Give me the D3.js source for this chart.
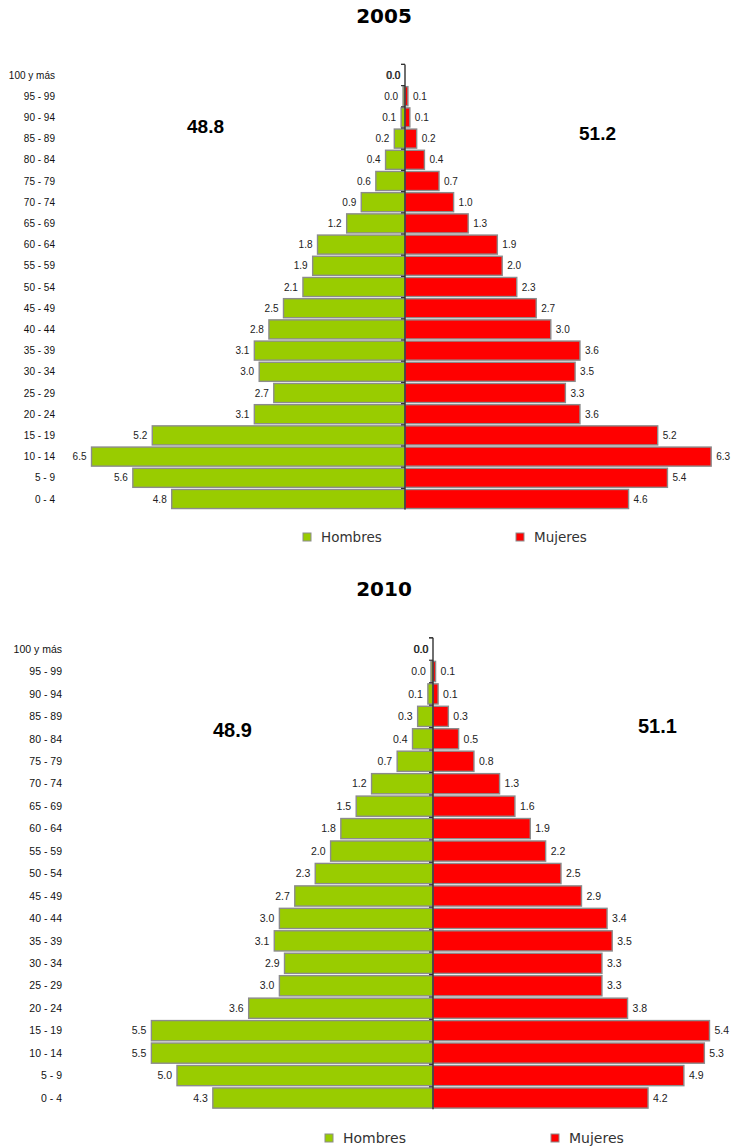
<!DOCTYPE html>
<html>
<head>
<meta charset="utf-8">
<script src="https://cdn.jsdelivr.net/npm/d3@7"></script>
<style>
  body { margin: 0; background: #fff; }
  svg { display: block; }
</style>
</head>
<body>
<div id="chart"></div>
<script>
// pirámide de población 2005 / 2010

// age groups, from the bottom row up
const ageGroups = ["0 - 4", "5 - 9", "10 - 14", "15 - 19", "20 - 24", "25 - 29", "30 - 34",
  "35 - 39", "40 - 44", "45 - 49", "50 - 54", "55 - 59", "60 - 64", "65 - 69", "70 - 74",
  "75 - 79", "80 - 84", "85 - 89", "90 - 94", "95 - 99", "100 y más"];

const years = ["2005", "2010"];

const men2005 = [4.8, 5.6, 6.45, 5.2, 3.1, 2.7, 3.0, 3.1, 2.8, 2.5, 2.1, 1.9, 1.8, 1.2, 0.9, 0.6, 0.4, 0.22, 0.08, 0.04, 0.0];
const women2005 = [4.6, 5.4, 6.3, 5.2, 3.6, 3.3, 3.5, 3.6, 3.0, 2.7, 2.3, 2.0, 1.9, 1.3, 1.0, 0.7, 0.4, 0.24, 0.1, 0.06, 0.0];

const men2010 = [4.3, 5.0, 5.5, 5.5, 3.6, 3.0, 2.9, 3.1, 3.0, 2.7, 2.3, 2.0, 1.8, 1.5, 1.2, 0.7, 0.4, 0.3, 0.1, 0.04, 0.0];
const women2010 = [4.2, 4.9, 5.3, 5.4, 3.8, 3.3, 3.3, 3.5, 3.4, 2.9, 2.5, 2.2, 1.9, 1.6, 1.3, 0.8, 0.5, 0.3, 0.1, 0.05, 0.0];

const totalsMen = [48.8, 48.9];
const totalsWomen = [51.2, 51.1];

const legendLabels = ["Hombres", "Mujeres"];

const colors = { men: "#99cc00", women: "#ff0000", border: "#8c8c8c" };

const svg = d3.select("#chart")
  .append("svg")
  .attr("width", 733)
  .attr("height", 1146);

const fmt = d3.format(".1f");

const drawPyramid = (cfg, men, women, title, totM, totW) => {
  const g = svg.append("g");
  const rows = ageGroups.map((a, i) => ({ age: a, m: men[i], w: women[i] }));

  // --- Scales ---
  const y = d3.scaleBand()
    .domain(ageGroups.slice().reverse())
    .range([cfg.top, cfg.top + cfg.step * ageGroups.length])
    .paddingInner(0.1)
    .paddingOuter(0.05);

  const x = d3.scaleLinear()
    .domain([-7, 7])
    .range([cfg.axisX - 7 * cfg.unit, cfg.axisX + 7 * cfg.unit]);

  // --- Title ---
  g.append("text")
    .attr("x", cfg.titleX)
    .attr("y", cfg.titleY)
    .attr("text-anchor", "middle")
    .style("font-family", "DejaVu Sans")
    .style("font-weight", "bold")
    .style("font-size", "20px")
    .text(title);

  // --- Bars ---
  g.selectAll(".men")
    .data(rows)
    .enter()
    .append("rect")
    .attr("x", d => x(-d.m))
    .attr("y", d => y(d.age))
    .attr("width", d => x(0) - x(-d.m))
    .attr("height", y.bandwidth())
    .attr("fill", colors.men)
    .attr("stroke", colors.border)
    .attr("stroke-width", 1.4);

  g.selectAll(".women")
    .data(rows)
    .enter()
    .append("rect")
    .attr("x", x(0))
    .attr("y", d => y(d.age))
    .attr("width", d => x(d.w) - x(0))
    .attr("height", y.bandwidth())
    .attr("fill", colors.women)
    .attr("stroke", colors.border)
    .attr("stroke-width", 1.4);

  // --- Axis (centre line with small ticks on the left) ---
  const [y0, y1] = y.range();
  g.append("line")
    .attr("x1", x(0)).attr("x2", x(0))
    .attr("y1", y0).attr("y2", y1)
    .attr("stroke", "#333")
    .attr("stroke-width", 1.4);

  const edges = ageGroups.map(a => y(a) - y.step() * 0.05).concat([y0]);
  g.selectAll(".tick")
    .data(edges)
    .enter()
    .append("line")
    .attr("x1", x(0) - 4).attr("x2", x(0))
    .attr("y1", d => d).attr("y2", d => d)
    .attr("stroke", "#333")
    .attr("stroke-width", 1.2);

  // --- Category labels ---
  g.selectAll(".cat")
    .data(ageGroups)
    .enter()
    .append("text")
    .attr("x", cfg.catX)
    .attr("y", d => y(d) + y.bandwidth() / 2)
    .attr("dy", "0.35em")
    .attr("text-anchor", "end")
    .style("font-family", "Liberation Sans")
    .style("font-size", cfg.fs + "px")
    .attr("fill", "#111")
    .text(d => d);

  // --- Value labels ---
  g.selectAll(".lm")
    .data(rows)
    .enter()
    .append("text")
    .attr("x", d => x(-d.m) - 5)
    .attr("y", d => y(d.age) + y.bandwidth() / 2)
    .attr("dy", "0.35em")
    .attr("text-anchor", "end")
    .style("font-family", "Liberation Sans")
    .style("font-size", cfg.fs + "px")
    .attr("fill", "#222")
    .text(d => fmt(d.m));

  // zero values of women land on top of the men label, as in the original
  g.selectAll(".lw")
    .data(rows)
    .enter()
    .append("text")
    .attr("x", d => d.w === 0 ? x(0) - 4.3 : x(d.w) + 5)
    .attr("y", d => y(d.age) + y.bandwidth() / 2)
    .attr("dy", "0.35em")
    .attr("text-anchor", d => d.w === 0 ? "end" : "start")
    .style("font-family", "Liberation Sans")
    .style("font-size", cfg.fs + "px")
    .attr("fill", "#222")
    .text(d => fmt(d.w));

  // --- Totals ---
  g.append("text")
    .attr("x", cfg.totM[0]).attr("y", cfg.totM[1])
    .style("font-family", "Liberation Sans")
    .style("font-weight", "bold")
    .style("font-size", cfg.totFs + "px")
    .text(fmt(totM));

  g.append("text")
    .attr("x", cfg.totW[0]).attr("y", cfg.totW[1])
    .style("font-family", "Liberation Sans")
    .style("font-weight", "bold")
    .style("font-size", cfg.totFs + "px")
    .text(fmt(totW));

  // --- Legend ---
  const legend = g.selectAll(".legend")
    .data(legendLabels)
    .enter()
    .append("g")
    .attr("transform", (d, i) => `translate(${cfg.legendX[i]}, ${cfg.legendY})`);

  legend.append("rect")
    .attr("x", 0)
    .attr("y", -8)
    .attr("width", 8)
    .attr("height", 8)
    .attr("fill", (d, i) => i === 0 ? colors.men : colors.women)
    .attr("stroke", colors.border)
    .attr("stroke-width", 1);

  legend.append("text")
    .attr("x", 18)
    .attr("y", 1)
    .style("font-family", "DejaVu Sans")
    .style("font-size", cfg.legFs + "px")
    .attr("fill", "#333")
    .text(d => d);
};

drawPyramid({
  axisX: 405, unit: 48.6, top: 64.4, step: 21.2, catX: 55, fs: 10,
  titleX: 384, titleY: 23, totFs: 19, totM: [187, 133], totW: [579, 140],
  legendX: [303, 516], legendY: 541, legFs: 13.5
}, men2005, women2005, years[0], totalsMen[0], totalsWomen[0]);

drawPyramid({
  axisX: 433, unit: 51.2, top: 637.8, step: 22.45, catX: 62, fs: 10.5,
  titleX: 384, titleY: 596, totFs: 20, totM: [213, 737], totW: [638, 733],
  legendX: [325, 551], legendY: 1142, legFs: 14
}, men2010, women2010, years[1], totalsMen[1], totalsWomen[1]);
</script>
</body>
</html>
